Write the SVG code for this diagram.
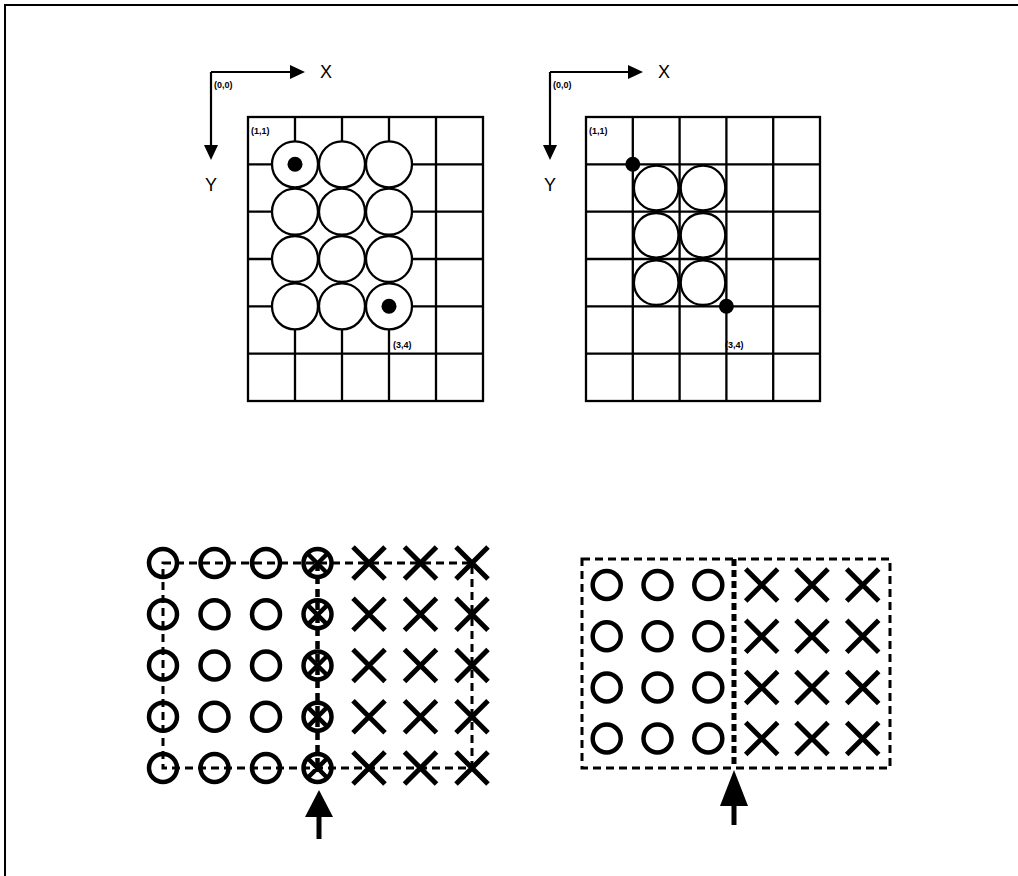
<svg xmlns="http://www.w3.org/2000/svg" width="1018" height="876" viewBox="0 0 1018 876">
<style>
.grid{stroke:#000;stroke-width:2.3;fill:none}
.cw{stroke:#000;stroke-width:2.3;fill:#fff}
.dot{fill:#000}
.ax{stroke:#000;stroke-width:2.2;fill:none}
.ah{fill:#000}
.lbl{font-family:"Liberation Sans",Arial,sans-serif;font-size:18px;fill:#000}
.sm{font-family:"Liberation Sans",Arial,sans-serif;font-size:9px;font-weight:bold;fill:#000}
.o{stroke:#000;stroke-width:4.5;fill:none}
.x{stroke:#000;stroke-width:5;fill:none}
.d{stroke:#000;stroke-width:3;fill:none;stroke-dasharray:8 5}
.dv{stroke:#000;stroke-width:4.5;fill:none;stroke-dasharray:8 5}
.dm{stroke:#000;stroke-width:5;fill:none;stroke-dasharray:7 4}
.arr{stroke:#000;stroke-width:5;fill:none}
</style>
<defs>
<g id="xm"><path class="x" d="M-16,-16L16,16M16,-16L-16,16"/></g>
<g id="om"><circle class="o" r="14"/></g>
</defs>
<g id="frame"><path d="M5,876V5H1018" stroke="#000" stroke-width="2" fill="none"/></g>

<g id="panel-a">
<g id="axes-a">
<path class="ax" d="M211,72H292M211,72V146"/>
<polygon class="ah" points="290,65 305,72 290,79"/>
<polygon class="ah" points="204,145 218,145 211,160"/>
<text class="lbl" x="320" y="78">X</text>
<text class="lbl" x="205" y="191">Y</text>
<text class="sm" x="214" y="88">(0,0)</text>
</g>
<g id="grid-a">
<rect class="grid" x="248" y="117" width="235" height="284"/>
<path class="grid" d="M295,117V401M342,117V401M389,117V401M436,117V401M248,164.3H483M248,211.7H483M248,259H483M248,306.3H483M248,353.7H483"/>
</g>
<g id="circles-a">
<circle class="cw" cx="295" cy="164.3" r="23"/><circle class="cw" cx="342" cy="164.3" r="23"/><circle class="cw" cx="389" cy="164.3" r="23"/>
<circle class="cw" cx="295" cy="211.7" r="23"/><circle class="cw" cx="342" cy="211.7" r="23"/><circle class="cw" cx="389" cy="211.7" r="23"/>
<circle class="cw" cx="295" cy="259" r="23"/><circle class="cw" cx="342" cy="259" r="23"/><circle class="cw" cx="389" cy="259" r="23"/>
<circle class="cw" cx="295" cy="306.3" r="23"/><circle class="cw" cx="342" cy="306.3" r="23"/><circle class="cw" cx="389" cy="306.3" r="23"/>
<circle class="dot" cx="295" cy="164.3" r="7.5"/>
<circle class="dot" cx="389" cy="306.3" r="7.5"/>
</g>
<text class="sm" x="251" y="134">(1,1)</text>
<text class="sm" x="393" y="348">(3,4)</text>
</g>

<g id="panel-b">
<g id="axes-b">
<path class="ax" d="M550,72H630M550,72V146"/>
<polygon class="ah" points="628,65 643,72 628,79"/>
<polygon class="ah" points="543,145 557,145 550,160"/>
<text class="lbl" x="658" y="78">X</text>
<text class="lbl" x="544" y="191">Y</text>
<text class="sm" x="553" y="88">(0,0)</text>
</g>
<g id="grid-b">
<rect class="grid" x="586" y="117" width="234" height="284"/>
<path class="grid" d="M632.8,117V401M679.6,117V401M726.4,117V401M773.2,117V401M586,164.3H820M586,211.7H820M586,259H820M586,306.3H820M586,353.7H820"/>
</g>
<g id="circles-b">
<circle class="cw" cx="656.2" cy="188" r="22.3"/><circle class="cw" cx="703" cy="188" r="22.3"/>
<circle class="cw" cx="656.2" cy="235.3" r="22.3"/><circle class="cw" cx="703" cy="235.3" r="22.3"/>
<circle class="cw" cx="656.2" cy="282.7" r="22.3"/><circle class="cw" cx="703" cy="282.7" r="22.3"/>
<circle class="dot" cx="632.8" cy="164.3" r="7.5"/>
<circle class="dot" cx="726.4" cy="306.3" r="7.5"/>
</g>
<text class="sm" x="589" y="134">(1,1)</text>
<text class="sm" x="725" y="348">(3,4)</text>
</g>

<g id="connectors">
<rect class="d" x="163" y="563" width="309" height="205"/>
<path class="dv" d="M317.5,563V768"/>
<rect class="d" x="582" y="559" width="308" height="209"/>
<path class="dm" d="M734,559V768"/>
<path class="arr" d="M319,839V812"/>
<polygon class="ah" points="305,817 333,817 319,790"/>
<path class="arr" d="M734,825V802"/>
<polygon class="ah" points="720,806 748,806 734,770"/>
</g>

<g id="panel-c">
<g id="c-o">
<use href="#om" x="163" y="563"/><use href="#om" x="214.5" y="563"/><use href="#om" x="266" y="563"/>
<use href="#om" x="163" y="614.3"/><use href="#om" x="214.5" y="614.3"/><use href="#om" x="266" y="614.3"/>
<use href="#om" x="163" y="665.5"/><use href="#om" x="214.5" y="665.5"/><use href="#om" x="266" y="665.5"/>
<use href="#om" x="163" y="716.8"/><use href="#om" x="214.5" y="716.8"/><use href="#om" x="266" y="716.8"/>
<use href="#om" x="163" y="768"/><use href="#om" x="214.5" y="768"/><use href="#om" x="266" y="768"/>
</g>
<g id="c-ox">
<use href="#om" x="317.5" y="563"/><use href="#om" x="317.5" y="614.3"/><use href="#om" x="317.5" y="665.5"/><use href="#om" x="317.5" y="716.8"/><use href="#om" x="317.5" y="768"/>
<path class="o" d="M307,553L328,574M328,553L307,574M307,604.3L328,625.3M328,604.3L307,625.3M307,655L328,676M328,655L307,676M307,706.3L328,727.3M328,706.3L307,727.3M307,757.5L328,778.5M328,757.5L307,778.5"/>
</g>
<g id="c-x">
<use href="#xm" x="369" y="563"/><use href="#xm" x="420.5" y="563"/><use href="#xm" x="472" y="563"/>
<use href="#xm" x="369" y="614.3"/><use href="#xm" x="420.5" y="614.3"/><use href="#xm" x="472" y="614.3"/>
<use href="#xm" x="369" y="665.5"/><use href="#xm" x="420.5" y="665.5"/><use href="#xm" x="472" y="665.5"/>
<use href="#xm" x="369" y="716.8"/><use href="#xm" x="420.5" y="716.8"/><use href="#xm" x="472" y="716.8"/>
<use href="#xm" x="369" y="768"/><use href="#xm" x="420.5" y="768"/><use href="#xm" x="472" y="768"/>
</g>
</g>

<g id="panel-d">
<g id="d-o">
<use href="#om" x="606.7" y="585"/><use href="#om" x="657.5" y="585"/><use href="#om" x="708.3" y="585"/>
<use href="#om" x="606.7" y="636.3"/><use href="#om" x="657.5" y="636.3"/><use href="#om" x="708.3" y="636.3"/>
<use href="#om" x="606.7" y="687.5"/><use href="#om" x="657.5" y="687.5"/><use href="#om" x="708.3" y="687.5"/>
<use href="#om" x="606.7" y="738.5"/><use href="#om" x="657.5" y="738.5"/><use href="#om" x="708.3" y="738.5"/>
</g>
<g id="d-x">
<use href="#xm" x="761.7" y="585"/><use href="#xm" x="812" y="585"/><use href="#xm" x="862.7" y="585"/>
<use href="#xm" x="761.7" y="636.3"/><use href="#xm" x="812" y="636.3"/><use href="#xm" x="862.7" y="636.3"/>
<use href="#xm" x="761.7" y="687.5"/><use href="#xm" x="812" y="687.5"/><use href="#xm" x="862.7" y="687.5"/>
<use href="#xm" x="761.7" y="738.5"/><use href="#xm" x="812" y="738.5"/><use href="#xm" x="862.7" y="738.5"/>
</g>
</g>
</svg>
